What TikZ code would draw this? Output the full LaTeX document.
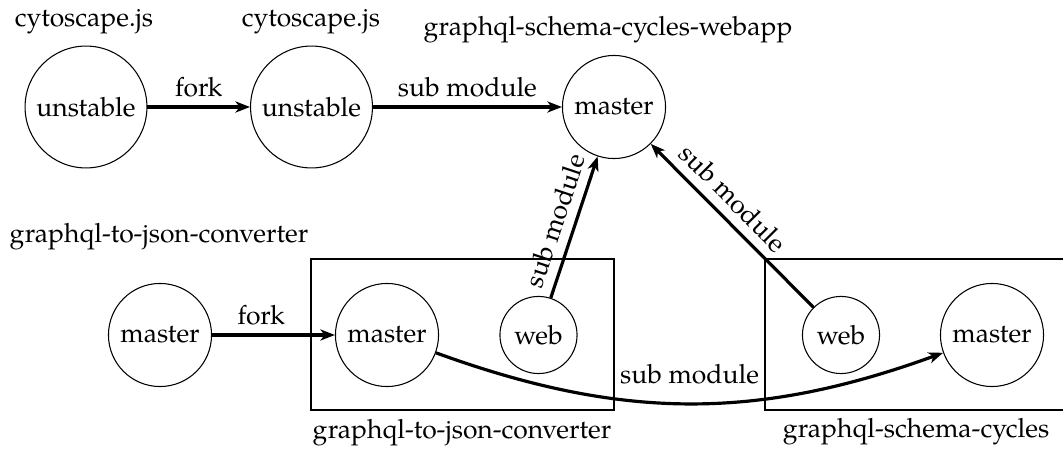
\documentclass[tikz,border=0pt]{standalone}
\usepackage{fontspec}
\setmainfont{TeX Gyre Pagella}
\usetikzlibrary{arrows.meta}
\tikzset{
  repo/.style={draw, circle, line width=0.4pt, inner sep=0pt},
  bigrepo/.style={repo, minimum size=46pt},
  midrepo/.style={repo, minimum size=38.9pt},
  smallrepo/.style={repo, minimum size=29.1pt},
  arr/.style={line width=1.2pt, -{Stealth[length=5.5pt, width=4.2pt, inset=1.6pt]}},
  group/.style={draw, line width=0.45pt},
  title/.style={inner sep=0pt}
}
\begin{document}
\begin{tikzpicture}[x=0.37736pt, y=-0.37736pt]
\useasboundingbox (0,0) rectangle (1063,452);
% group boxes
\draw[group] (311,259) rectangle (614,410);
\draw[group] (765,259) rectangle (1075,410);
% nodes
\node[bigrepo] (u1) at (86,107) {unstable};
\node[bigrepo] (u2) at (311.5,107) {unstable};
\node[midrepo] (w) at (614,107) {master};
\node[midrepo] (g1) at (160,335) {master};
\node[midrepo] (g2) at (387,335) {master};
\node[smallrepo] (gw) at (538.5,335) {web};
\node[smallrepo] (sw) at (841,335) {web};
\node[midrepo] (sm) at (992,335) {master};
% titles
\node[title] (t1) at (84,22) {cytoscape.js};
\node[title] (t2) at (311,22) {cytoscape.js};
\node[title] (t3) at (608,30) {graphql-schema-cycles-webapp};
\node[title] (t4) at (159,237) {graphql-to-json-converter};
\node[title] (t5) at (462,433) {graphql-to-json-converter};
\node[title] (t6) at (916,432) {graphql-schema-cycles};
% connectors
\draw[arr] (u1) -- node[above] {fork} (u2);
\draw[arr] (u2) -- node[above] {sub module} (w);
\draw[arr] (g1) -- node[above, pos=0.4] {fork} (g2);
\draw[arr] (gw) -- node[above, sloped] {sub module} (w);
\draw[arr] (sw) -- node[above, sloped, pos=0.58] {sub module} (w);
\draw[arr] (g2) to[bend right=20] node[above=3.4pt] {sub module} (sm);
\end{tikzpicture}
\end{document}
